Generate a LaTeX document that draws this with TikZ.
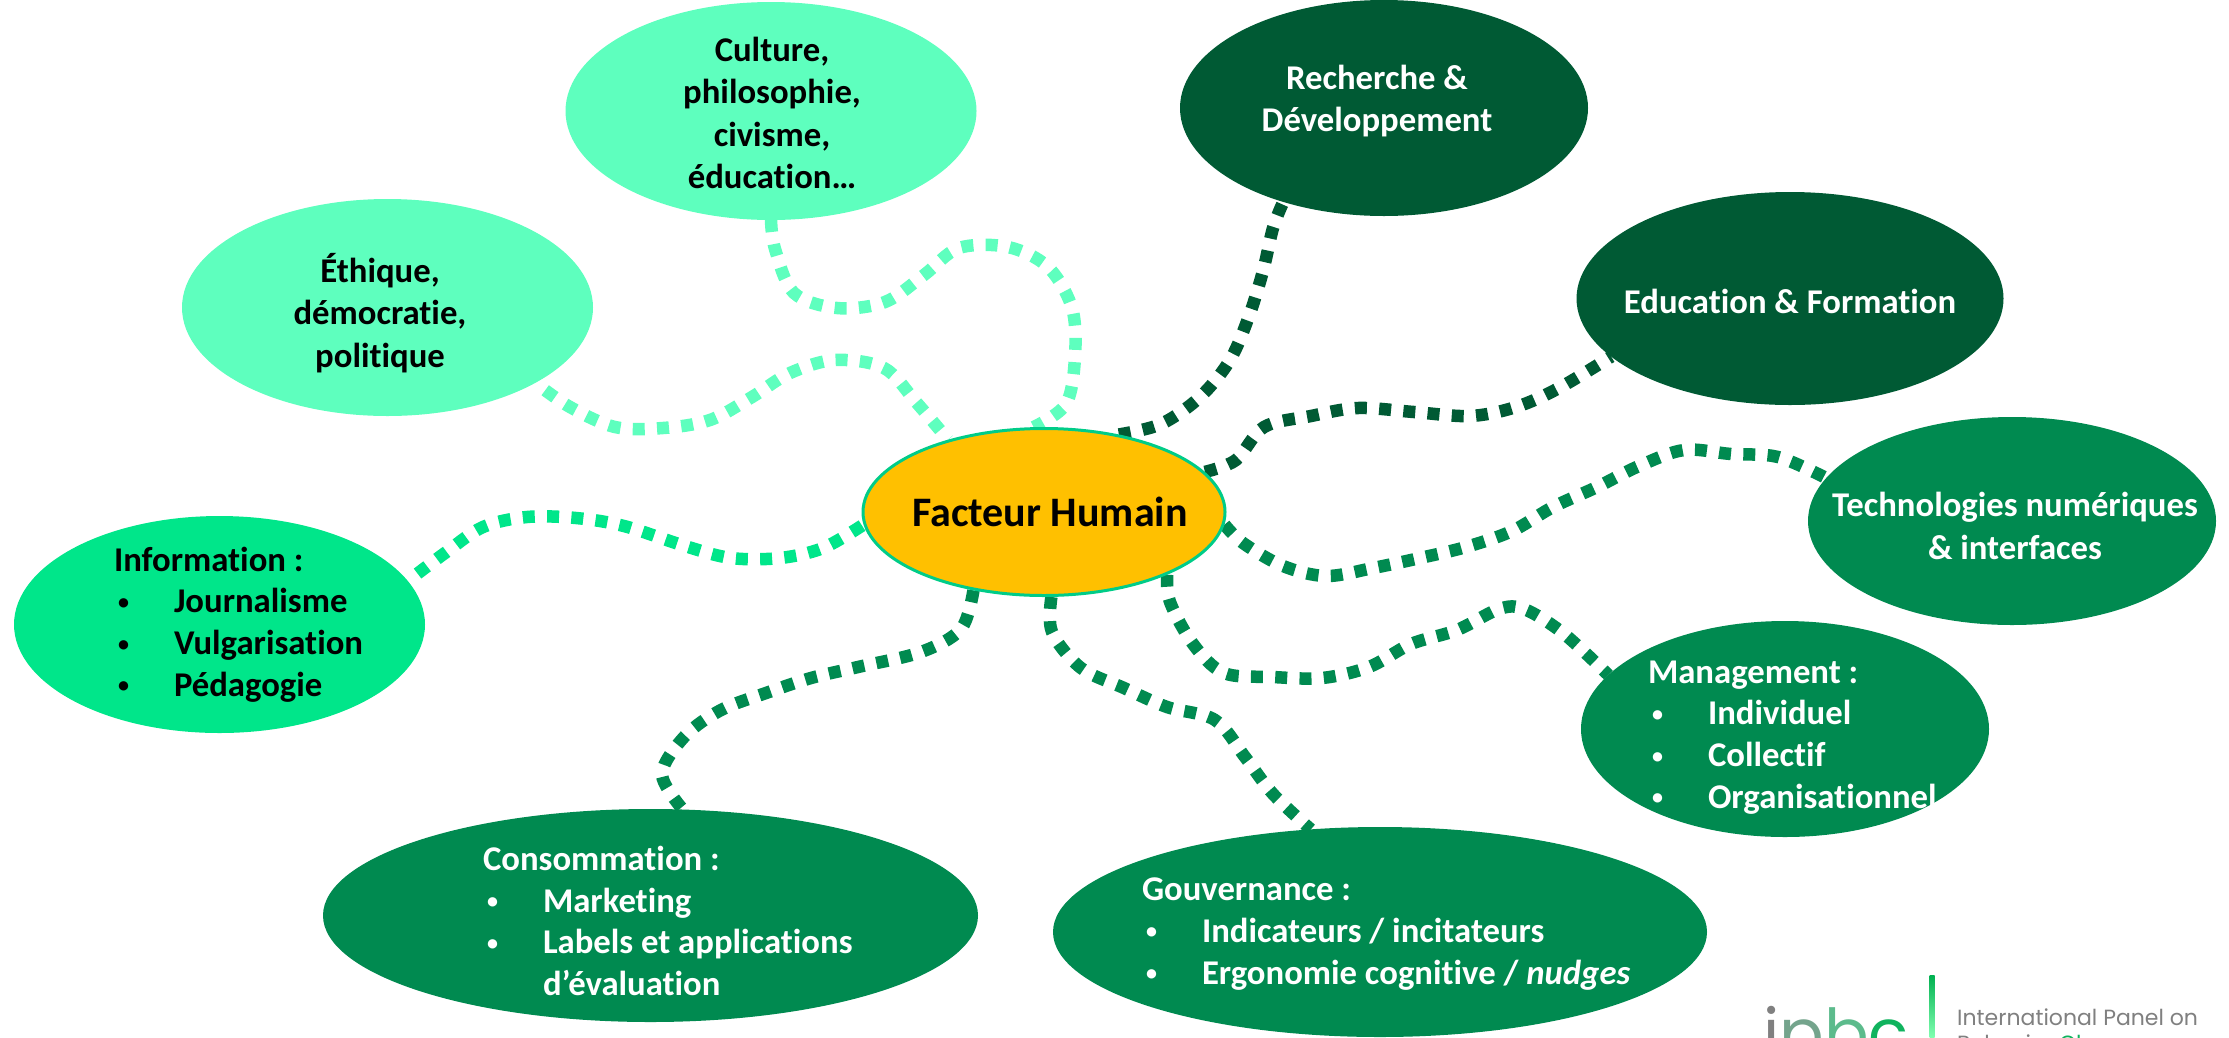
\documentclass[tikz,border=0pt]{standalone}
\usepackage{fontspec}
\setmainfont{Carlito}[Ligatures={NoCommon,TeX}]
\newfontfamily\logofont{Poppins}
\usetikzlibrary{shapes.geometric,backgrounds}
\definecolor{lightg}{HTML}{5EFFBE}
\definecolor{infog}{HTML}{00E68A}
\definecolor{midg}{HTML}{008A50}
\definecolor{darkg}{HTML}{005A34}
\definecolor{sun}{HTML}{FFC000}
\definecolor{sunline}{HTML}{00CC88}
\definecolor{logogray}{HTML}{808080}
\newcommand{\bul}[1]{\makebox[#1pt][l]{\hspace{4pt}\raisebox{3.5pt}{\fontsize{22}{22}\selectfont •}}}
\tikzset{
  bubble/.style={ellipse,draw=none,inner sep=0pt,outer sep=0pt},
  label text/.style={font=\fontsize{34.7}{42.5}\selectfont\bfseries,inner sep=0pt,outer sep=0pt},
  list text/.style={font=\fontsize{34.7}{41.7}\selectfont\bfseries,inner sep=0pt,outer sep=0pt,align=left,anchor=west},
  whitetext/.style={label text,text=white},
  blacktext/.style={label text,text=black},
  conn/.style={line width=12.5pt,dash pattern=on 12pt off 12.3pt,line cap=butt,line join=round},
}
\begin{document}
\begin{tikzpicture}[x=1pt,y=-1pt]
\useasboundingbox (0,0) rectangle (2229,1037);
\clip (0,0) rectangle (2229,1037);
% bubbles
\node[bubble,fill=lightg,minimum width=411pt,minimum height=218pt] (cult) at (771,111) {};
\node[bubble,fill=lightg,minimum width=411pt,minimum height=217pt] (eth) at (387.5,307.5) {};
\node[bubble,fill=darkg,minimum width=408pt,minimum height=216pt] (rech) at (1384,108) {};
\node[bubble,fill=darkg,minimum width=427pt,minimum height=213pt] (edu) at (1790,298.5) {};
\node[bubble,fill=midg,minimum width=408pt,minimum height=208pt] (tech) at (2012,521) {};
\node[bubble,fill=midg,minimum width=408pt,minimum height=216pt] (mgt) at (1785,729) {};
\node[bubble,fill=infog,minimum width=411pt,minimum height=217pt] (info) at (219.5,624.5) {};
\node[bubble,fill=midg,minimum width=655pt,minimum height=213pt] (cons) at (650.5,915.5) {};
\node[bubble,fill=midg,minimum width=654pt,minimum height=210pt] (gouv) at (1380,932) {};
\node[ellipse,draw=sunline,line width=3pt,fill=sun,inner sep=0pt,minimum width=362pt,minimum height=167pt] (fh) at (1044,512) {};
% texts
\node[inner sep=0pt,font=\fontsize{42}{48}\selectfont\bfseries,text=black] (fhT) at (1050,512) {Facteur Humain};
\node[blacktext,align=center] (cultT) at (772,113) {Culture,\\philosophie,\\civisme,\\éducation…};
\node[blacktext,align=center] (ethT) at (380,313) {Éthique,\\démocratie,\\politique};
\node[whitetext,align=center] (rechT) at (1377,101) {Recherche \&\\Développement};
\node[whitetext,align=center] (eduT) at (1790,301) {Education \& Formation};
\node[whitetext,align=center] (techT) at (2015,526) {Technologies numériques\\\& interfaces};
\node[list text,text=black] (infoT) at (114,624.5) {Information :\\\bul{60}Journalisme\\\bul{60}Vulgarisation\\\bul{60}Pédagogie};
\node[list text,text=white] (mgtT) at (1648,737.5) {Management :\\\bul{60}Individuel\\\bul{60}Collectif\\\bul{60}Organisationnel};
\node[list text,text=white] (consT) at (483,921) {Consommation :\\\bul{60}Marketing\\\bul{60}Labels et applications\\\hspace*{60pt}d’évaluation};
\node[list text,text=white] (gouvT) at (1142,934) {Gouvernance :\\\bul{60}Indicateurs / incitateurs\\\bul{60}Ergonomie cognitive / \textit{nudges}};
% connectors
\begin{scope}[on background layer]
\draw[conn,lightg] plot[smooth,tension=.55] coordinates {(cult.-90) (775,249) (794,293) (837,308) (885,302) (924,275) (959,248) (1008,247) (1048,267) (1072,308) (1075,357) (1066,404) (fh.97)};
\draw[conn,lightg,dash phase=12pt] plot[smooth,tension=.55] coordinates {(eth.-27) (570,407) (615,427) (663,428) (710,420) (752,397) (790,373) (835,360) (884,368) (916,402) (fh.143)};
\draw[conn,darkg] plot[smooth,tension=.55] coordinates {(fh.46) (1161,424) (1200,397) (1230,360) (1249,316) (1263,271) (1273,228) (rech.223)};
\draw[conn,darkg] plot[smooth,tension=.55] coordinates {(fh.14) (1236,460) (1264,427) (1311,416) (1358,408) (1414,412) (1470,416) (1516,407) (1559,388) (edu.198)};
\draw[conn,midg] plot[smooth,tension=.55] coordinates {(fh.-4) (1243,543) (1283,566) (1326,576) (1373,568) (1420,558) (1466,547) (1512,531) (1553,507) (1597,487) (1639,466) (1684,450) (1731,454) (1778,457) (tech.167)};
\draw[conn,midg] plot[smooth,tension=.55] coordinates {(fh.-27) (1170,602) (1193,644) (1224,673) (1273,677) (1322,678) (1369,667) (1411,644) (1457,630) (1499,609) (1524,609) (1563,633) (mgt.163)};
\draw[conn,midg] plot[smooth,tension=.55] coordinates {(fh.-85) (1052,632) (1081,668) (1124,688) (1167,707) (1215,720) (1245,757) (1273,794) (gouv.124)};
\draw[conn,midg] plot[smooth,tension=.55] coordinates {(fh.-132) (961,629) (921,652) (858,667) (811,678) (766,693) (721,710) (685,736) (662,774) (cons.73.5)};
\draw[conn,infog,dash phase=12pt] plot[smooth,tension=.55] coordinates {(info.13) (445,553) (483,527) (527,517) (576,518) (624,526) (685,546) (731,558) (780,558) (823,548) (fh.184)};
\end{scope}
% logo
\definecolor{barA}{HTML}{00B050}
\definecolor{barB}{HTML}{80FFB0}
\shade[top color=barA,bottom color=barB] (1929.5,975) rectangle (1934.5,1037);
\node[inner sep=0pt,anchor=base west,font=\logofont\fontsize{66}{66}\selectfont] (logoL) at (1763,1056) {\textcolor{logogray}{i}\textcolor[HTML]{74A48C}{p}\textcolor[HTML]{5CBB8C}{b}\textcolor[HTML]{10B35E}{c}};
\node[inner sep=0pt,anchor=base west,font=\logofont\fontsize{22}{33}\selectfont,text=logogray] (logoT) at (1957,1025) {International Panel on};
\node[inner sep=0pt,anchor=base west,font=\logofont\fontsize{22}{33}\selectfont,text=logogray] (logoU) at (1957,1051) {Behavior \textcolor[HTML]{10B35E}{Change}};
\end{tikzpicture}
\end{document}
